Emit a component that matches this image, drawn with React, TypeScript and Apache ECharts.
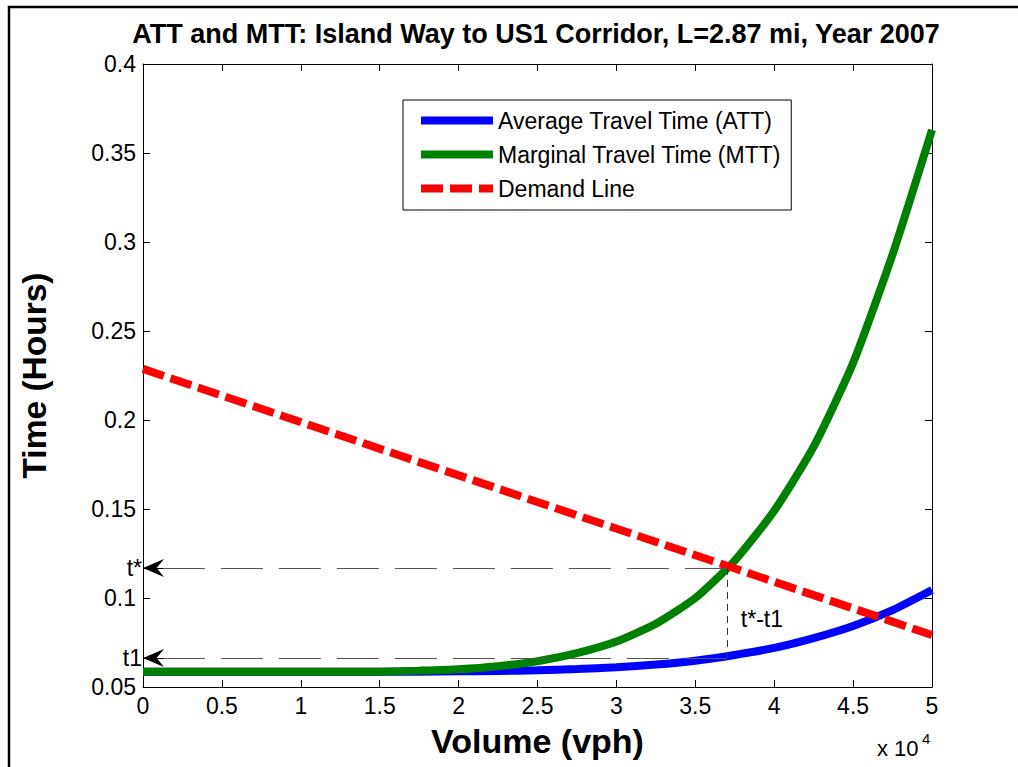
import React, { useEffect, useRef } from "react";
import * as echarts from "echarts";

const FONT = "'Liberation Sans', Arial, Helvetica, sans-serif";

const chartTitle = "ATT and MTT: Island Way to US1 Corridor, L=2.87 mi, Year 2007";
const seriesNames = ["Average Travel Time (ATT)", "Marginal Travel Time (MTT)", "Demand Line"];

// volume (vph)
const volume = [0, 2500, 5000, 7500, 10000, 12500, 15000, 17500, 20000, 22500, 25000,
  27500, 30000, 32500, 35000, 37500, 40000, 42500, 45000, 47500, 50000];
// average travel time (hours)
const att = [0.0585, 0.0585, 0.0585, 0.0585, 0.0585, 0.0585, 0.0585, 0.0586, 0.0588, 0.059, 0.0594,
  0.0601, 0.0611, 0.0626, 0.0648, 0.068, 0.072, 0.0775, 0.0843, 0.0932, 0.1045];
// marginal travel time (hours)
const mtt = [0.0585, 0.0585, 0.0585, 0.0585, 0.0585, 0.0585, 0.0586, 0.0592, 0.06, 0.0617, 0.0645,
  0.069, 0.0755, 0.0855, 0.1, 0.121, 0.149, 0.185, 0.232, 0.293, 0.363];
// demand line
const demandVolume = [0, 50000];
const demandTime = [0.2287, 0.0792];

// equilibrium annotations
const vStar = 37000;
const tStar = 0.1169;
const t1 = 0.0663;
const arrowShaft = 1300;

const xTicks = { min: 0, max: 50000, interval: 5000 };
const yTicks = { min: 0.05, max: 0.4, interval: 0.05 };

const arrowPath = "path://M9,0L18,20L9,13L0,20Z";

export default function App() {
  const ref = useRef<HTMLDivElement>(null);
  useEffect(() => {
    if (!ref.current) return;
    const chart = echarts.init(ref.current, undefined, { renderer: "svg" });
    const txt = { fontFamily: FONT, color: "#000" };
    const axisCommon = {
      type: "value",
      splitLine: { show: false },
      axisLine: { show: true, onZero: false, lineStyle: { color: "#000", width: 1 } },
      axisTick: { show: true, inside: true, length: 7, lineStyle: { color: "#000", width: 1 } },
    };
    const arrowLine = (t: number, label: string) => [
      { coord: [arrowShaft, t], symbol: "none" },
      {
        coord: [0, t],
        symbol: arrowPath,
        symbolSize: [18, 21],
        symbolOffset: [0, 10.5],
        label: { show: true, position: "end", formatter: label, distance: 1, fontSize: 23, ...txt },
      },
    ];
    const option: any = {
      animation: false,
      backgroundColor: "#fff",
      title: {
        text: chartTitle,
        left: 531,
        top: 15,
        textAlign: "center",
        textStyle: { ...txt, fontSize: 27, fontWeight: "bold" },
      },
      grid: { left: 143, top: 64, width: 789, height: 623 },
      legend: {
        orient: "vertical",
        left: 403,
        top: 100,
        data: seriesNames,
        padding: [9, 10, 10, 14],
        itemWidth: 72,
        itemHeight: 10,
        itemGap: 11,
        backgroundColor: "#fff",
        borderColor: "#000",
        borderWidth: 1,
        borderRadius: 0,
        lineStyle: { width: 8 },
        itemStyle: { opacity: 0 },
        textStyle: { ...txt, fontSize: 23 },
      },
      xAxis: [
        {
          ...axisCommon,
          ...xTicks,
          position: "bottom",
          axisLabel: {
            ...txt,
            fontSize: 23,
            margin: 7,
            formatter: (v: number) => String(v / 10000),
          },
          name: "Volume (vph)",
          nameLocation: "middle",
          nameGap: 37,
          nameTextStyle: { ...txt, fontSize: 34, fontWeight: "bold" },
        },
        { ...axisCommon, ...xTicks, position: "top", axisLabel: { show: false } },
      ],
      yAxis: [
        {
          ...axisCommon,
          ...yTicks,
          position: "left",
          axisLabel: {
            ...txt,
            fontSize: 23,
            margin: 7,
            formatter: (v: number) => String(parseFloat(v.toFixed(2))),
          },
          name: "Time (Hours)",
          nameLocation: "middle",
          nameGap: 92,
          nameTextStyle: { ...txt, fontSize: 33.5, fontWeight: "bold" },
        },
        { ...axisCommon, ...yTicks, position: "right", axisLabel: { show: false } },
      ],
      series: [
        {
          name: seriesNames[0],
          type: "line",
          data: volume.map((v, i) => [v, att[i]]),
          symbol: "none",
          smooth: 0.2,
          color: "#0000ff",
          lineStyle: { color: "#0000ff", width: 8 },
          z: 2,
        },
        {
          name: seriesNames[1],
          type: "line",
          data: volume.map((v, i) => [v, mtt[i]]),
          symbol: "none",
          smooth: 0.2,
          color: "#008000",
          lineStyle: { color: "#008000", width: 8 },
          z: 3,
        },
        {
          name: seriesNames[2],
          type: "line",
          data: demandVolume.map((v, i) => [v, demandTime[i]]),
          symbol: "none",
          color: "#ff0000",
          lineStyle: { color: "#ff0000", width: 8, type: [22, 7] },
          z: 4,
        },
        {
          name: "guides",
          type: "line",
          data: [],
          symbol: "none",
          silent: true,
          z: 5,
          markLine: {
            silent: true,
            animation: false,
            symbol: ["none", "none"],
            label: { show: false },
            data: [
              [{ coord: [vStar, tStar] }, { coord: [0, tStar] }],
              [{ coord: [vStar, t1] }, { coord: [0, t1] }],
            ],
            lineStyle: { color: "#555", width: 1, type: [42, 16] },
          },
        },
        {
          name: "vguide",
          type: "line",
          data: [],
          symbol: "none",
          silent: true,
          z: 5,
          markLine: {
            silent: true,
            animation: false,
            symbol: ["none", "none"],
            label: { show: false },
            data: [[{ coord: [vStar, tStar] }, { coord: [vStar, t1] }]],
            lineStyle: { color: "#333", width: 1, type: [7, 5] },
          },
          markPoint: {
            silent: true,
            animation: false,
            symbol: "circle",
            symbolSize: 0,
            data: [{ coord: [vStar, (tStar + t1) / 2] }],
            label: {
              show: true,
              position: "right",
              distance: 14,
              offset: [0, 6],
              formatter: "t*-t1",
              fontSize: 23,
              ...txt,
            },
          },
        },
        {
          name: "arrows",
          type: "line",
          data: [],
          symbol: "none",
          silent: true,
          z: 6,
          markLine: {
            silent: true,
            animation: false,
            symbol: ["none", arrowPath],
            symbolSize: [[18, 21], [18, 21]],
            data: [arrowLine(tStar, "t*"), arrowLine(t1, "t1")],
            lineStyle: { color: "#000", width: 1, type: "solid" },
            itemStyle: { color: "#000" },
          },
        },
      ],
      graphic: [
        {
          type: "rect",
          silent: true,
          z: 100,
          shape: { x: 9, y: 7, width: 1200, height: 1000 },
          style: { fill: "none", stroke: "#000", lineWidth: 2.5 },
        },
        {
          type: "text",
          x: 877,
          y: 748,
          style: { text: "x 10", font: `22px ${FONT}`, fill: "#000", verticalAlign: "middle" },
        },
        {
          type: "text",
          x: 922,
          y: 738,
          style: { text: "4", font: `15px ${FONT}`, fill: "#000", verticalAlign: "middle" },
        },
      ],
    };
    chart.setOption(option);
    return () => chart.dispose();
  }, []);
  return (
    <div
      ref={ref}
      style={{ position: "fixed", left: 0, top: 0, width: 1018, height: 767, background: "#fff" }}
    />
  );
}
